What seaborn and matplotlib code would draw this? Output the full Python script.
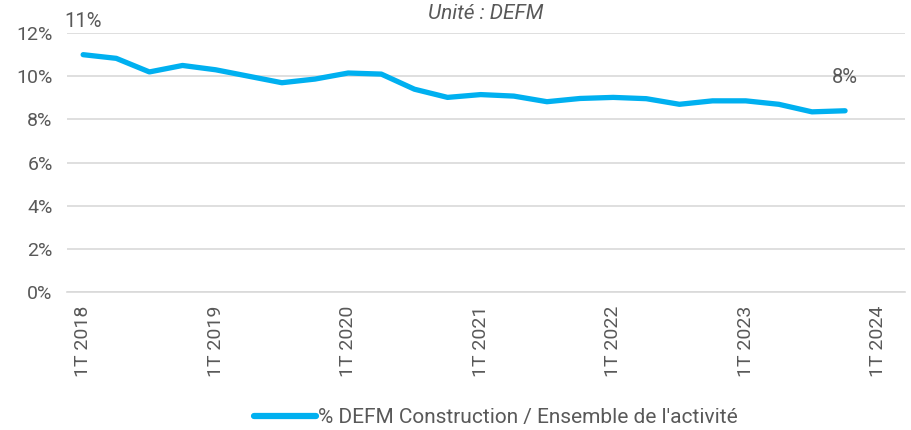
import pandas as pd
import matplotlib.pyplot as plt
import seaborn as sns
from matplotlib.ticker import FuncFormatter

# Data
quarters = [f"{q}T {y}" for y in range(2018, 2024) for q in range(1, 5)]
share_pct = [11.0, 10.83, 10.2, 10.5, 10.3, 10.0, 9.7, 9.87, 10.15, 10.1, 9.4, 9.02,
             9.15, 9.08, 8.82, 8.97, 9.02, 8.96, 8.7, 8.86, 8.86, 8.7, 8.35, 8.4]
tick_labels = ["1T 2018", "1T 2019", "1T 2020", "1T 2021", "1T 2022", "1T 2023", "1T 2024"]
series_name = "% DEFM Construction / Ensemble de l'activité"

df = pd.DataFrame({"quarter": quarters, "value": share_pct})
df["idx"] = range(len(df))

sns.set_style("white")
plt.rcParams['font.family'] = ['Roboto', 'DejaVu Sans']

fig = plt.figure(figsize=(9.12, 4.30), dpi=100)
ax = fig.add_axes([0.073, 0.321, 0.919, 0.602])

sns.lineplot(data=df, x="idx", y="value", ax=ax, color="#00B0F0", linewidth=3.8,
             label=series_name, solid_capstyle="round")

ax.set_ylim(0, 12)
ax.set_xlim(-0.5, 24.8)
ax.set_yticks(range(0, 13, 2))
ax.yaxis.set_major_formatter(FuncFormatter(lambda v, p: f"{v:.0f}%"))
ax.set_xticks(range(0, 25, 4))
ax.set_xticklabels(tick_labels, rotation=90)
ax.tick_params(axis="both", length=0, labelcolor="#595959")
ax.tick_params(axis="y", labelsize=14, pad=10)
ax.tick_params(axis="x", labelsize=14, pad=10)
ax.grid(axis="y", color="#D9D9D9", linewidth=1.2)
for s in ["top", "right", "left"]:
    ax.spines[s].set_visible(False)
ax.spines["bottom"].set_color("#D9D9D9")
ax.spines["bottom"].set_linewidth(1.2)
ax.set_xlabel("")
ax.set_ylabel("")

ax.set_title("Unité : DEFM", fontsize=15, style="italic", color="#595959", pad=10)

# first and last point labels
for i in [0, len(share_pct) - 1]:
    ax.annotate(f"{share_pct[i]:.0f}%", (df["idx"][i], share_pct[i]), xytext=(0, 20),
                textcoords="offset points", ha="center", fontsize=14.5, color="#595959")

leg = ax.legend(loc="center", bbox_to_anchor=(0.512, -0.486), frameon=False, fontsize=15,
                handlelength=3.0, labelcolor="#595959", handletextpad=0.1)
for line in leg.get_lines():
    line.set_linewidth(4.5)

fig.savefig("out.png", dpi=100)
